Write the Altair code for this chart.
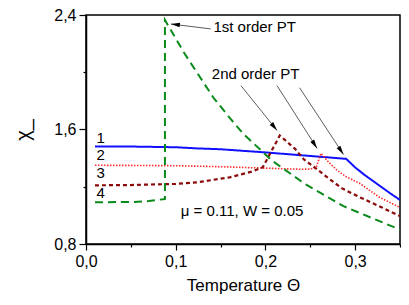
import altair as alt
import pandas as pd
import math

FONT = "Liberation Sans"

# ---- curve data ----
c1_x = [0.01, 0.05, 0.10, 0.124, 0.15, 0.20, 0.25, 0.29, 0.30, 0.31, 0.32, 0.33, 0.34, 0.35]
c1_y = [1.482, 1.481, 1.476, 1.468, 1.462, 1.440, 1.415, 1.395, 1.335, 1.285, 1.240, 1.195, 1.150, 1.108]

c2_x = [0.01, 0.05, 0.10, 0.15, 0.20, 0.24, 0.25, 0.2565, 0.262, 0.27, 0.279, 0.29, 0.305, 0.327, 0.35]
c2_y = [1.350, 1.349, 1.347, 1.340, 1.330, 1.322, 1.324, 1.335, 1.433, 1.375, 1.320, 1.270, 1.224, 1.127, 1.055]

c3_x = [0.01, 0.05, 0.10, 0.124, 0.16, 0.186, 0.197, 0.216, 0.233, 0.243, 0.258, 0.268, 0.285, 0.305, 0.33, 0.35]
c3_y = [1.210, 1.212, 1.220, 1.231, 1.266, 1.308, 1.336, 1.558, 1.465, 1.390, 1.320, 1.270, 1.190, 1.127, 1.055, 0.995]

c4_x = [0.01, 0.05, 0.07, 0.086, 0.088, 0.088, 0.110, 0.142, 0.160, 0.175, 0.207, 0.243, 0.287, 0.35]
c4_y = [1.092, 1.093, 1.100, 1.113, 1.115, 2.365, 2.129, 1.823, 1.683, 1.572, 1.384, 1.224, 1.064, 0.900]

series = [
    (c1_x, c1_y, "#1010ff", [1, 0], 2.0),
    (c2_x, c2_y, "#ff2a2a", [1.5, 1.5], 1.6),
    (c3_x, c3_y, "#8b0a0a", [4, 3], 2.2),
    (c4_x, c4_y, "#0a8a1a", [8, 5], 2.0),
]

# ---- annotations ----
curve_labels = ["1", "2", "3", "4"]
curve_label_x = [0.0163, 0.0163, 0.0163, 0.0163]
curve_label_y = [1.544, 1.419, 1.294, 1.155]

note_text = ["1st order PT", "2nd order PT", "\u03bc = 0.11, W = 0.05"]
note_x = [0.188, 0.189, 0.174]
note_y = [2.316, 1.990, 1.030]

arrow_x0 = [0.139, 0.1728, 0.2130, 0.2380]
arrow_y0 = [2.303, 1.906, 1.906, 1.892]
arrow_x1 = [0.0946, 0.2130, 0.2576, 0.2870]
arrow_y1 = [2.337, 1.593, 1.468, 1.426]

x_ticks = [0.0, 0.05, 0.10, 0.15, 0.20, 0.25, 0.30, 0.35]
y_ticks = [0.8, 1.2, 1.6, 2.0, 2.4]

W, H = 314, 229
XD = [0.0, 0.35]
YD = [0.8, 2.4]

xscale = alt.Scale(domain=XD, nice=False, zero=False)
yscale = alt.Scale(domain=YD, nice=False, zero=False)

major_x = "abs(datum.value*10 - round(datum.value*10)) < 0.01"
major_y = "abs(datum.value/0.8 - round(datum.value/0.8)) < 0.01"

xaxis = alt.Axis(
    values=x_ticks, grid=False, title="Temperature \u0398",
    labelExpr=f"{major_x} ? replace(format(datum.value, '.1f'), '.', ',') : ''",
    tickSize={"condition": {"test": major_x, "value": 6}, "value": 3},
    labelFontSize=16, titleFontSize=17, titleFontWeight="normal",
    labelPadding=3, titlePadding=8, labelFlush=False,
    domainColor="black", tickColor="black", labelColor="black", titleColor="black",
    domainWidth=1.5, tickWidth=1.2, labelFont=FONT, titleFont=FONT,
)
yaxis = alt.Axis(
    values=y_ticks, grid=False, title="\u03c7_",
    labelExpr=f"{major_y} ? replace(format(datum.value, '.1f'), '.', ',') : ''",
    tickSize={"condition": {"test": major_y, "value": 7}, "value": 3},
    labelFontSize=16, titleFontSize=20, titleFontWeight="normal",
    labelPadding=3, titlePadding=20, labelFlush=False,
    domainColor="black", tickColor="black", labelColor="black", titleColor="black",
    domainWidth=1.5, tickWidth=1.2, labelFont=FONT, titleFont=FONT,
)

def X(f):
    return alt.X(f, type="quantitative", scale=xscale, axis=xaxis)

def Y(f):
    return alt.Y(f, type="quantitative", scale=yscale, axis=yaxis)

layers = []
for i, (xs, ys, col, dash, sw) in enumerate(series):
    df = pd.DataFrame({"x": xs, "y": ys, "i": list(range(len(xs)))})
    mk = alt.Chart(df).mark_line(color=col, strokeWidth=sw, strokeDash=dash, clip=True)
    layers.append(mk.encode(x=X("x"), y=Y("y"), order=alt.Order("i:Q")))

lab_df = pd.DataFrame({"x": curve_label_x, "y": curve_label_y, "t": curve_labels})
layers.append(alt.Chart(lab_df).mark_text(font=FONT, fontSize=15, color="black").encode(
    x=X("x"), y=Y("y"), text="t:N"))

note_df = pd.DataFrame({"x": note_x, "y": note_y, "t": note_text})
layers.append(alt.Chart(note_df).mark_text(font=FONT, fontSize=15, color="black").encode(
    x=X("x"), y=Y("y"), text="t:N"))

# arrow shafts and heads
px_per_x = W / (XD[1] - XD[0])
px_per_y = H / (YD[1] - YD[0])
angles = []
for a, b, c, d in zip(arrow_x0, arrow_y0, arrow_x1, arrow_y1):
    dx = (c - a) * px_per_x
    dy = -(d - b) * px_per_y
    angles.append(math.degrees(math.atan2(dx, -dy)) % 360)
arr_df = pd.DataFrame({"x0": arrow_x0, "y0": arrow_y0, "x1": arrow_x1, "y1": arrow_y1, "ang": angles})
layers.append(alt.Chart(arr_df).mark_rule(color="#333333", strokeWidth=0.8).encode(
    x=X("x0"), y=Y("y0"), x2="x1:Q", y2="y1:Q"))
layers.append(alt.Chart(arr_df).mark_point(
    shape="M0,0L-0.75,3L0.75,3Z", filled=True, size=36, color="black", opacity=1).encode(
    x=X("x1"), y=Y("y1"), angle=alt.Angle("ang:Q", scale=None)))

chart = alt.layer(*layers).properties(
    width=W, height=H,
    autosize=alt.AutoSizeParams(type="none"),
    padding={"left": 78, "top": 7, "right": 1, "bottom": 52},
    background="white",
).configure_view(stroke="black", strokeWidth=1.5)

chart.save("out.html", embed_options={"renderer": "svg", "actions": False})
